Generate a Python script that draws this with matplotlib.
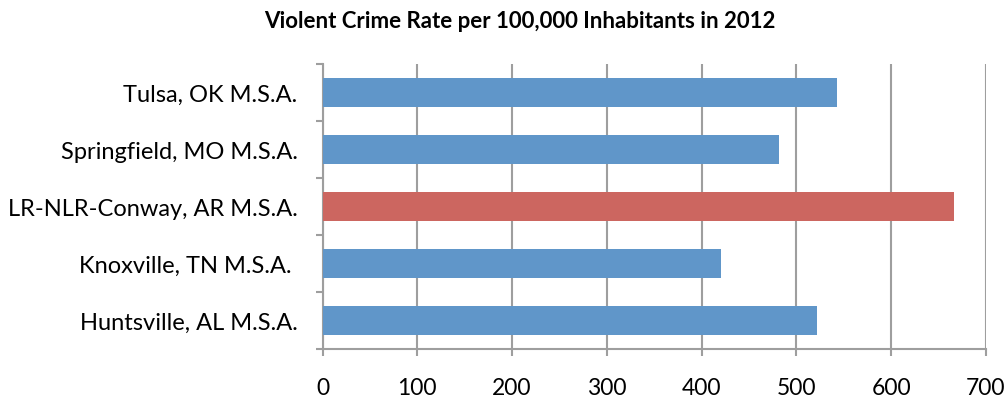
import numpy as np
import matplotlib.pyplot as plt

# violent crime rate per 100,000 inhabitants, 2012
cities = ['Huntsville, AL M.S.A.', 'Knoxville, TN M.S.A. ', 'LR-NLR-Conway, AR M.S.A.',
          'Springfield, MO M.S.A.', 'Tulsa, OK M.S.A.']
rates = [522, 421, 666, 482, 543]
bar_colors = ['#6096C9', '#6096C9', '#CC6660', '#6096C9', '#6096C9']
xticks = [0, 100, 200, 300, 400, 500, 600, 700]

plt.rcParams['font.family'] = ['Lato', 'DejaVu Sans']

fig = plt.figure(figsize=(10.08, 4.06), dpi=100)
ax = fig.add_axes([0.32, 0.138, 0.658, 0.702])

y = np.arange(len(cities))
ax.barh(y, rates, height=0.5, color=bar_colors, zorder=3)

ax.set_xlim(0, 700)
ax.set_ylim(-0.5, len(cities) - 0.5)
ax.set_xticks(xticks)
ax.set_xticklabels([str(t) for t in xticks], fontsize=16.5)
ax.set_yticks(y)
ax.set_yticklabels(cities, fontsize=17)
ax.set_yticks(np.arange(-0.5, len(cities)), minor=True)

grey = '#9E9E9E'
ax.grid(axis='x', color=grey, linewidth=1.5, zorder=0)
ax.tick_params(axis='y', which='major', length=0, pad=18)
ax.tick_params(axis='y', which='minor', length=5, width=1.5, color=grey)
ax.tick_params(axis='x', length=5, width=1.5, color=grey, pad=15)

for s in ['top', 'right']:
    ax.spines[s].set_visible(False)
for s in ['left', 'bottom']:
    ax.spines[s].set_color(grey)
    ax.spines[s].set_linewidth(1.5)

fig.text(0.516, 0.946, 'Violent Crime Rate per 100,000 Inhabitants in 2012',
         ha='center', va='center', fontsize=16, fontweight='bold')

fig.savefig('out.png', dpi=100)
